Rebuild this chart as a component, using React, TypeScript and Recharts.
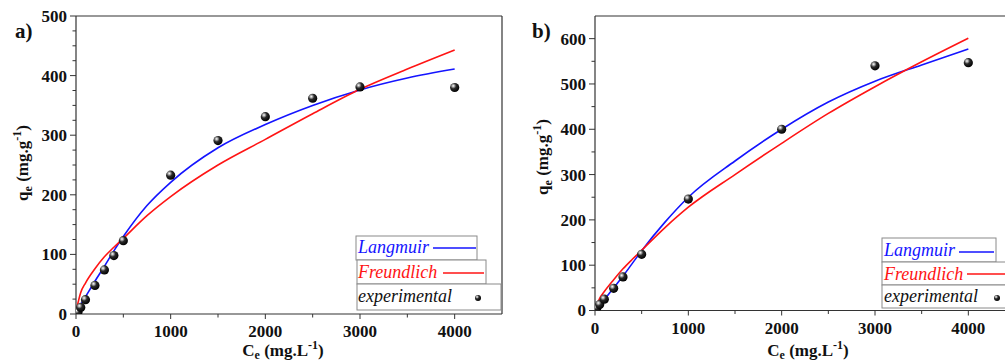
import React from 'react';
import { ComposedChart, Line, Scatter, XAxis, YAxis, ReferenceLine } from 'recharts';

// panel a) fitted curves and measured points
const aLangmuirC = [20, 50, 100, 200, 300, 400, 500, 750, 1000, 1500, 2000, 2500, 3000, 3500, 4000];
const aLangmuirQ = [9, 16, 29, 55, 80, 106, 130, 182, 221, 279, 318, 350, 376, 396, 411];
const aFreundlichC = [10, 50, 100, 200, 300, 400, 500, 750, 1000, 1500, 2000, 2500, 3000, 3500, 4000];
const aFreundlichQ = [11, 36, 52, 76, 96, 112, 127, 165, 197, 250, 293, 336, 377, 411, 443];
const aExpC = [20, 50, 100, 200, 300, 400, 500, 1000, 1500, 2000, 2500, 3000, 4000];
const aExpQ = [3, 11, 24, 48, 74, 98, 123, 233, 291, 331, 362, 381, 380];

// panel b)
const bLangmuirC = [20, 50, 100, 200, 300, 400, 500, 750, 1000, 1500, 2000, 2500, 3000, 3500, 4000];
const bLangmuirQ = [5, 12, 24, 50, 76, 104, 132, 195, 250, 330, 400, 460, 506, 542, 577];
const bFreundlichC = [10, 50, 100, 200, 300, 400, 500, 750, 1000, 1500, 2000, 2500, 3000, 3500, 4000];
const bFreundlichQ = [8, 27, 42, 68, 92, 113, 133, 183, 228, 300, 369, 435, 494, 549, 601];
const bExpC = [20, 50, 100, 200, 300, 500, 1000, 2000, 3000, 4000];
const bExpQ = [6, 13, 25, 49, 74, 124, 246, 400, 540, 547];

const xTicks = [0, 500, 1000, 1500, 2000, 2500, 3000, 3500, 4000];
const aYTicks = [0, 25, 50, 75, 100, 125, 150, 175, 200, 225, 250, 275, 300, 325, 350, 375, 400, 425, 450, 475, 500];
const bYTicks = [0, 50, 100, 150, 200, 250, 300, 350, 400, 450, 500, 550, 600];
const seriesNames = ['Langmuir', 'Freundlich', 'experimental'];

const AXIS = '#333';
const BLUE = '#1414ff';
const RED = '#ff1414';
const SERIF = "'Liberation Serif', 'Times New Roman', Times, serif";

const bold = { fontFamily: SERIF, fontWeight: 700 };
const italic = { fontFamily: SERIF, fontStyle: 'italic' };

const rows = (cs: number[], qs: number[]) => cs.map((c, i) => ({ c, q: qs[i] }));

const XTick = (props: any) => {
  const { x, y, payload } = props;
  const major = payload.value % 1000 === 0;
  return (
    <g>
      <line x1={x} x2={x} y1={y} y2={y + (major ? 5 : 3.5)} stroke={AXIS} strokeWidth={1} />
      {major && (
        <text x={x} y={y + 23} textAnchor="middle" fill="#111" fontSize={17} style={bold}>
          {payload.value}
        </text>
      )}
    </g>
  );
};

const makeYTick = (step: number) => (props: any) => {
  const { x, y, payload } = props;
  const major = payload.value % step === 0;
  return (
    <g>
      <line x1={x} x2={x - (major ? 6 : 3.5)} y1={y} y2={y} stroke={AXIS} strokeWidth={1} />
      {major && (
        <text x={x - 9} y={y} dy="0.35em" textAnchor="end" fill="#111" fontSize={17} style={bold}>
          {payload.value}
        </text>
      )}
    </g>
  );
};

const Ball = (props: any) => {
  const { cx, cy } = props;
  if (cx == null || cy == null) return null;
  return <circle cx={cx} cy={cy} r={4.6} fill="url(#ballGrad)" />;
};

function Panel(props: {
  width: number;
  yAxisWidth: number;
  xAxisHeight: number;
  yMax: number;
  yTicks: number[];
  langmuir: { c: number; q: number }[];
  freundlich: { c: number; q: number }[];
  experimental: { c: number; q: number }[];
}) {
  const { width, yAxisWidth, xAxisHeight, yMax, yTicks, langmuir, freundlich, experimental } = props;
  return (
    <ComposedChart width={width} height={363} margin={{ top: 16, right: 3, bottom: 0, left: 0 }}>
      <XAxis
        type="number"
        dataKey="c"
        domain={[0, 4500]}
        ticks={xTicks}
        interval={0}
        tickSize={0}
        tickMargin={0}
        tickLine={false}
        tick={XTick}
        height={xAxisHeight}
        axisLine={{ stroke: AXIS, strokeWidth: 1.2 }}
        allowDataOverflow
      />
      <YAxis
        type="number"
        dataKey="q"
        domain={[0, yMax]}
        ticks={yTicks}
        interval={0}
        tickSize={0}
        tickMargin={0}
        tickLine={false}
        tick={makeYTick(100)}
        width={yAxisWidth}
        axisLine={{ stroke: AXIS, strokeWidth: 1.2 }}
        allowDataOverflow
      />
      <ReferenceLine y={yMax} stroke={AXIS} strokeWidth={1.2} />
      <ReferenceLine x={4500} stroke={AXIS} strokeWidth={1.2} />
      <Line data={langmuir} dataKey="q" type="monotone" stroke={BLUE} strokeWidth={1.6} dot={false} isAnimationActive={false} />
      <Line data={freundlich} dataKey="q" type="monotone" stroke={RED} strokeWidth={1.6} dot={false} isAnimationActive={false} />
      <Scatter data={experimental} dataKey="q" shape={Ball} isAnimationActive={false} />
    </ComposedChart>
  );
}

function LegendBlock(props: {
  boxes: [number, number, number, number][];
  baselines: number[];
  textX: number;
  blueLine: [number, number, number];
  redLine: [number, number, number];
  dot: [number, number];
}) {
  const { boxes, baselines, textX, blueLine, redLine, dot } = props;
  const colors = [BLUE, RED, '#111'];
  return (
    <g>
      {boxes.map((b, i) => (
        <rect key={i} x={b[0]} y={b[1]} width={b[2]} height={b[3]} fill="#fff" stroke="#8a8a8a" strokeWidth={1} />
      ))}
      {seriesNames.map((n, i) => (
        <text key={n} x={textX} y={baselines[i]} fill={colors[i]} fontSize={18} style={italic}>
          {n}
        </text>
      ))}
      <line x1={blueLine[0]} x2={blueLine[1]} y1={blueLine[2]} y2={blueLine[2]} stroke={BLUE} strokeWidth={1.6} />
      <line x1={redLine[0]} x2={redLine[1]} y1={redLine[2]} y2={redLine[2]} stroke={RED} strokeWidth={1.6} />
      <circle cx={dot[0]} cy={dot[1]} r={3} fill="url(#ballGrad)" />
    </g>
  );
}

function QLabel({ x, y }: { x: number; y: number }) {
  return (
    <text transform={`translate(${x},${y}) rotate(-90)`} textAnchor="middle" fontSize={17} fill="#111" style={bold}>
      q<tspan fontSize={12} dy={4}>e</tspan>
      <tspan dy={-4}> (mg.g</tspan>
      <tspan fontSize={12} dy={-7}>-1</tspan>
      <tspan dy={7}>)</tspan>
    </text>
  );
}

function CLabel({ x, y }: { x: number; y: number }) {
  return (
    <text x={x} y={y} textAnchor="middle" fontSize={17} fill="#111" style={bold}>
      C<tspan fontSize={12} dy={3}>e</tspan>
      <tspan dy={-3}> (mg.L</tspan>
      <tspan fontSize={12} dy={-7}>-1</tspan>
      <tspan dy={7}>)</tspan>
    </text>
  );
}

export default function App() {
  return (
    <div style={{ position: 'absolute', left: 0, top: 0, width: 1005, height: 363, overflow: 'hidden', background: '#fff' }}>
      <svg width={0} height={0} style={{ position: 'absolute' }}>
        <defs>
          <radialGradient id="ballGrad" cx="35%" cy="32%" r="70%">
            <stop offset="0%" stopColor="#ffffff" />
            <stop offset="18%" stopColor="#b0b0b0" />
            <stop offset="45%" stopColor="#2a2a2a" />
            <stop offset="100%" stopColor="#000000" />
          </radialGradient>
        </defs>
      </svg>
      <div style={{ position: 'absolute', left: 0, top: 0 }}>
        <Panel
          width={505}
          yAxisWidth={76}
          xAxisHeight={49}
          yMax={500}
          yTicks={aYTicks}
          langmuir={rows(aLangmuirC, aLangmuirQ)}
          freundlich={rows(aFreundlichC, aFreundlichQ)}
          experimental={rows(aExpC, aExpQ)}
        />
      </div>
      <div style={{ position: 'absolute', left: 510, top: 0 }}>
        <Panel
          width={508}
          yAxisWidth={85}
          xAxisHeight={52.5}
          yMax={650}
          yTicks={bYTicks}
          langmuir={rows(bLangmuirC, bLangmuirQ)}
          freundlich={rows(bFreundlichC, bFreundlichQ)}
          experimental={rows(bExpC, bExpQ)}
        />
      </div>
      <svg width={1005} height={363} style={{ position: 'absolute', left: 0, top: 0, pointerEvents: 'none' }}>
        <text x={15} y={38} fontSize={21} fill="#111" style={bold}>a)</text>
        <text x={532} y={38} fontSize={21} fill="#111" style={bold}>b)</text>

        <QLabel x={28} y={163} />
        <QLabel x={548} y={157} />
        <CLabel x={283} y={356} />
        <CLabel x={808} y={356} />

        <LegendBlock
          boxes={[[356, 236, 121, 24], [357, 260, 129, 24], [357, 284, 144, 26]]}
          baselines={[253, 278, 302]}
          textX={358}
          blueLine={[433, 476, 248]}
          redLine={[443, 484, 273]}
          dot={[478, 298]}
        />
        <LegendBlock
          boxes={[[882, 238, 114, 24], [882, 262, 130, 23], [882, 285, 130, 23]]}
          baselines={[256, 280, 302]}
          textX={884}
          blueLine={[959, 994, 252]}
          redLine={[967, 1005, 274]}
          dot={[997, 298]}
        />
      </svg>
    </div>
  );
}
